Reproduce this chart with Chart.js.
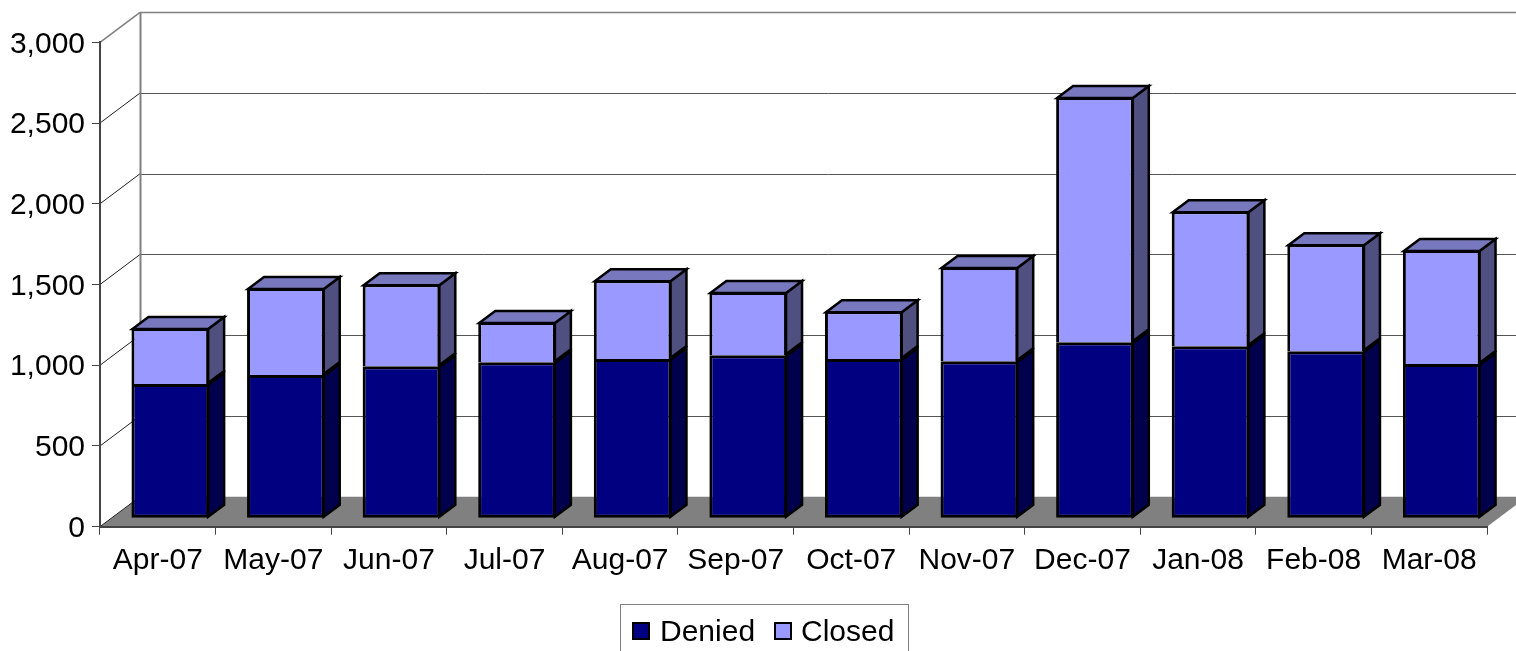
<!DOCTYPE html>
<html><head><meta charset="utf-8">
<style>html,body{margin:0;padding:0;background:#fff;overflow:hidden}canvas{display:block}</style>
<script src="https://cdn.jsdelivr.net/npm/chart.js@4"></script>
</head><body><canvas id="c" width="1516" height="651"></canvas>
<script>
const categories = ['Apr-07','May-07','Jun-07','Jul-07','Aug-07','Sep-07','Oct-07','Nov-07','Dec-07','Jan-08','Feb-08','Mar-08'];
const denied = [831,888,942,967,986,1010,986,973,1091,1066,1035,955];
const closed = [347,538,507,248,488,391,297,583,1518,836,663,706];
const yTicks = [0,500,1000,1500,2000,2500,3000];

const FONT = '"Liberation Sans", Arial, sans-serif';
const FS = 30;
const WALL = {dx:40, dy:-30};
const BAR_SHIFT = {x:12.5, y:-8.4};
const DEPTH = {dx:16, dy:-12};

function poly(ctx, pts, fill, stroke, lw){
  ctx.beginPath();
  pts.forEach((p,i)=> i?ctx.lineTo(p[0],p[1]):ctx.moveTo(p[0],p[1]));
  ctx.closePath();
  if(fill){ctx.fillStyle=fill;ctx.fill();}
  if(stroke){ctx.strokeStyle=stroke;ctx.lineWidth=lw;ctx.lineJoin='miter';ctx.stroke();}
}
function line(ctx,x1,y1,x2,y2,c,w){
  ctx.beginPath();ctx.moveTo(x1,y1);ctx.lineTo(x2,y2);ctx.strokeStyle=c;ctx.lineWidth=w;ctx.stroke();
}
const room = {
  id:'room',
  beforeDraw(chart){
    const {ctx,chartArea:a,scales:{y}} = chart;
    ctx.save();
    ctx.fillStyle='#fff';ctx.fillRect(0,0,chart.width,chart.height);
    const y0=y.getPixelForValue(0);
    poly(ctx,[[a.left,y0],[a.right,y0],[a.right+WALL.dx,y0+WALL.dy],[a.left+WALL.dx,y0+WALL.dy]],'#808080');
    yTicks.forEach(v=>{
      const p=y.getPixelForValue(v);
      const top=v===yTicks[yTicks.length-1];
      const c=top?'#808080':'#555555';
      const w=top?1.6:1;
      line(ctx,a.left,p,a.left+WALL.dx,p+WALL.dy,top?'#808080':'#222222',w);
      if(v>0) line(ctx,a.left+WALL.dx,Math.round(p+WALL.dy)+.5,a.right+WALL.dx,Math.round(p+WALL.dy)+.5,c,w);
    });
    line(ctx,a.left+WALL.dx+.5,y.getPixelForValue(3000)+WALL.dy,a.left+WALL.dx+.5,y0+WALL.dy,'#808080',2);
    ctx.restore();
  },
  beforeDatasetsDraw(chart){
    const {ctx}=chart;
    ctx.save();
    ctx.translate(BAR_SHIFT.x,BAR_SHIFT.y);
    const n=chart.data.datasets.length;
    chart.data.datasets.forEach((ds,i)=>{
      chart.getDatasetMeta(i).data.forEach(el=>{
        const r=el.x+el.width/2-1, l=el.x-el.width/2+1, t=el.y+1, b=el.base-1;
        poly(ctx,[[r,t],[r+DEPTH.dx,t+DEPTH.dy],[r+DEPTH.dx,b+DEPTH.dy],[r,b]],ds.sideColor,'#000',2.5);
        if(i===n-1) poly(ctx,[[l,t],[l+DEPTH.dx,t+DEPTH.dy],[r+DEPTH.dx,t+DEPTH.dy],[r,t]],ds.capColor,'#000',2.5);
      });
    });
  },
  afterDatasetsDraw(chart){ chart.ctx.restore(); },
  afterDraw(chart){
    const {ctx}=chart;
    ctx.save();
    ctx.strokeStyle='#808080';ctx.lineWidth=1;
    ctx.strokeRect(620.5,604.5,288,80);
    ctx.font=FS+'px '+FONT;ctx.textBaseline='alphabetic';ctx.textAlign='left';
    const sw=[632,774], tx=[660,801];
    chart.data.datasets.forEach((ds,i)=>{
      ctx.fillStyle=ds.backgroundColor;ctx.fillRect(sw[i]+1,623,16,16);
      ctx.strokeStyle='#000';ctx.lineWidth=2;ctx.strokeRect(sw[i]+1,623,16,16);
      ctx.fillStyle='#000';ctx.fillText(ds.label,tx[i],641);
    });
    ctx.restore();
  }
};
new Chart(document.getElementById('c'),{
  type:'bar',
  data:{labels:categories,datasets:[
    {label:'Denied',data:denied,backgroundColor:'#000080',sideColor:'#00004D',capColor:'#00004D',borderColor:'#000',borderWidth:3,borderSkipped:false,clip:false},
    {label:'Closed',data:closed,backgroundColor:'#9999FF',sideColor:'#4F4F80',capColor:'#7878BE',borderColor:'#000',borderWidth:{top:3,left:3,right:3,bottom:0},borderSkipped:false,clip:false}
  ]},
  options:{
    responsive:false,animation:false,
    layout:{padding:{left:0,top:42.3,right:29,bottom:0}},
    plugins:{legend:{display:false},tooltip:{enabled:false},title:{display:false}},
    datasets:{bar:{categoryPercentage:1,barPercentage:0.672}},
    scales:{
      x:{stacked:true,
        afterFit(s){s.height=124.3;},
        grid:{drawOnChartArea:false,drawTicks:true,tickLength:8,color:'#444',tickColor:'#444'},
        border:{color:'#444',width:2},
        ticks:{color:'#000',font:{family:FONT,size:FS},padding:8,maxRotation:0,autoSkip:false}
      },
      y:{stacked:true,min:0,max:3000,
        afterFit(s){s.width=100;},
        afterBuildTicks(s){s.ticks=yTicks.map(v=>({value:v}));},
        grid:{drawOnChartArea:false,drawTicks:true,tickLength:8,color:'#444',tickColor:'#444'},
        border:{color:'#444',width:2},
        ticks:{color:'#000',font:{family:FONT,size:FS},padding:7,labelOffset:2,callback:v=>v.toLocaleString('en-US')}
      }
    }
  },
  plugins:[room]
});
</script></body></html>
